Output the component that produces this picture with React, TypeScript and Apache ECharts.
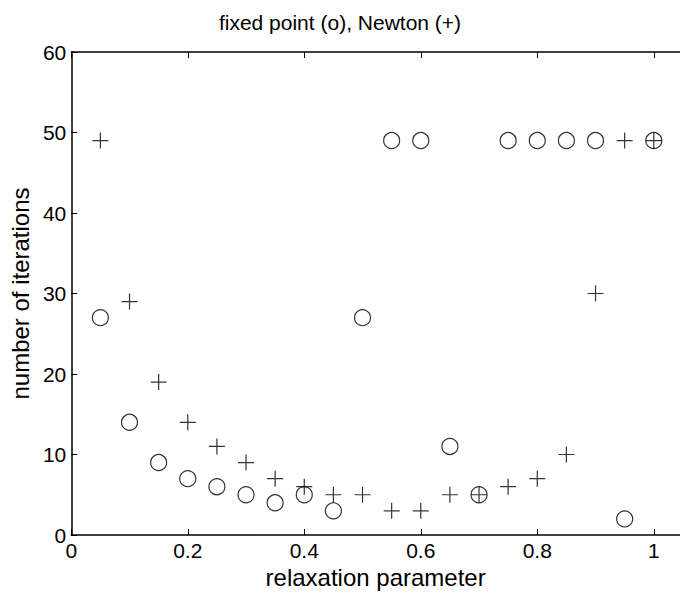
import React, { useEffect, useRef } from "react";
import * as echarts from "echarts";

const relaxation = [0.05, 0.1, 0.15, 0.2, 0.25, 0.3, 0.35, 0.4, 0.45, 0.5, 0.55, 0.6, 0.65, 0.7, 0.75, 0.8, 0.85, 0.9, 0.95, 1.0];
const fixedPointIters = [27, 14, 9, 7, 6, 5, 4, 5, 3, 27, 49, 49, 11, 5, 49, 49, 49, 49, 2, 49];
const newtonIters = [49, 29, 19, 14, 11, 9, 7, 6, 5, 5, 3, 3, 5, 5, 6, 7, 10, 30, 49, 49];
const yTicks = [0, 10, 20, 30, 40, 50, 60];

const FONT = "Liberation Sans, Arial, Helvetica, sans-serif";

export default function App() {
  const ref = useRef<HTMLDivElement>(null);
  useEffect(() => {
    if (!ref.current) return;
    const chart = echarts.init(ref.current, undefined, { renderer: "svg" });
    const tickStyle = { color: "#000", width: 1 };
    chart.setOption({
      animation: false,
      backgroundColor: "#fff",
      title: {
        text: "fixed point (o), Newton (+)",
        left: "center",
        top: 7,
        textStyle: { fontFamily: FONT, fontSize: 21, fontWeight: "normal", color: "#000" },
      },
      grid: { left: 69, right: 0, top: 52, bottom: 60, containLabel: false },
      xAxis: [
        {
          type: "value",
          min: 0,
          max: 1.045,
          interval: 0.2,
          position: "bottom",
          name: "relaxation parameter",
          nameLocation: "middle",
          nameGap: 30,
          nameTextStyle: { fontFamily: FONT, fontSize: 24, color: "#000" },
          axisLine: { show: true, onZero: false, lineStyle: { color: "#000", width: 1.5 } },
          axisTick: { show: true, inside: true, length: 6, lineStyle: tickStyle },
          axisLabel: {
            fontFamily: FONT,
            fontSize: 21,
            color: "#000",
            margin: 5,
            showMaxLabel: false,
            formatter: (v: number) => String(Math.round(v * 10) / 10),
          },
          splitLine: { show: false },
        },
        {
          type: "value",
          min: 0,
          max: 1.045,
          interval: 0.2,
          position: "top",
          axisLine: { show: true, onZero: false, lineStyle: { color: "#000", width: 1.5 } },
          axisTick: { show: true, inside: true, length: 6, lineStyle: tickStyle },
          axisLabel: { show: false },
          splitLine: { show: false },
        },
      ],
      yAxis: {
        type: "value",
        min: yTicks[0],
        max: yTicks[yTicks.length - 1],
        interval: 10,
        name: "number of iterations",
        nameLocation: "middle",
        nameGap: 35,
        nameTextStyle: { fontFamily: FONT, fontSize: 24, color: "#000" },
        axisLine: { show: true, onZero: false, lineStyle: { color: "#000", width: 1.5 } },
        axisTick: { show: true, inside: true, length: 6, lineStyle: tickStyle },
        axisLabel: { fontFamily: FONT, fontSize: 21, color: "#000", margin: 5 },
        splitLine: { show: false },
      },
      series: [
        {
          type: "scatter",
          name: "fixed point",
          symbol: "circle",
          symbolSize: 16,
          itemStyle: { color: "transparent", borderColor: "#000", borderWidth: 1.2 },
          data: relaxation.map((x, i) => [x, fixedPointIters[i]]),
        },
        {
          type: "scatter",
          name: "Newton",
          symbol: "path://M5,0L5,10M0,5L10,5",
          symbolSize: 16,
          itemStyle: { color: "transparent", borderColor: "#000", borderWidth: 1.2 },
          data: relaxation.map((x, i) => [x, newtonIters[i]]),
        },
      ],
    });
    return () => chart.dispose();
  }, []);
  return (
    <div
      ref={ref}
      style={{ position: "fixed", left: 0, top: 0, width: 680, height: 595 }}
    />
  );
}
